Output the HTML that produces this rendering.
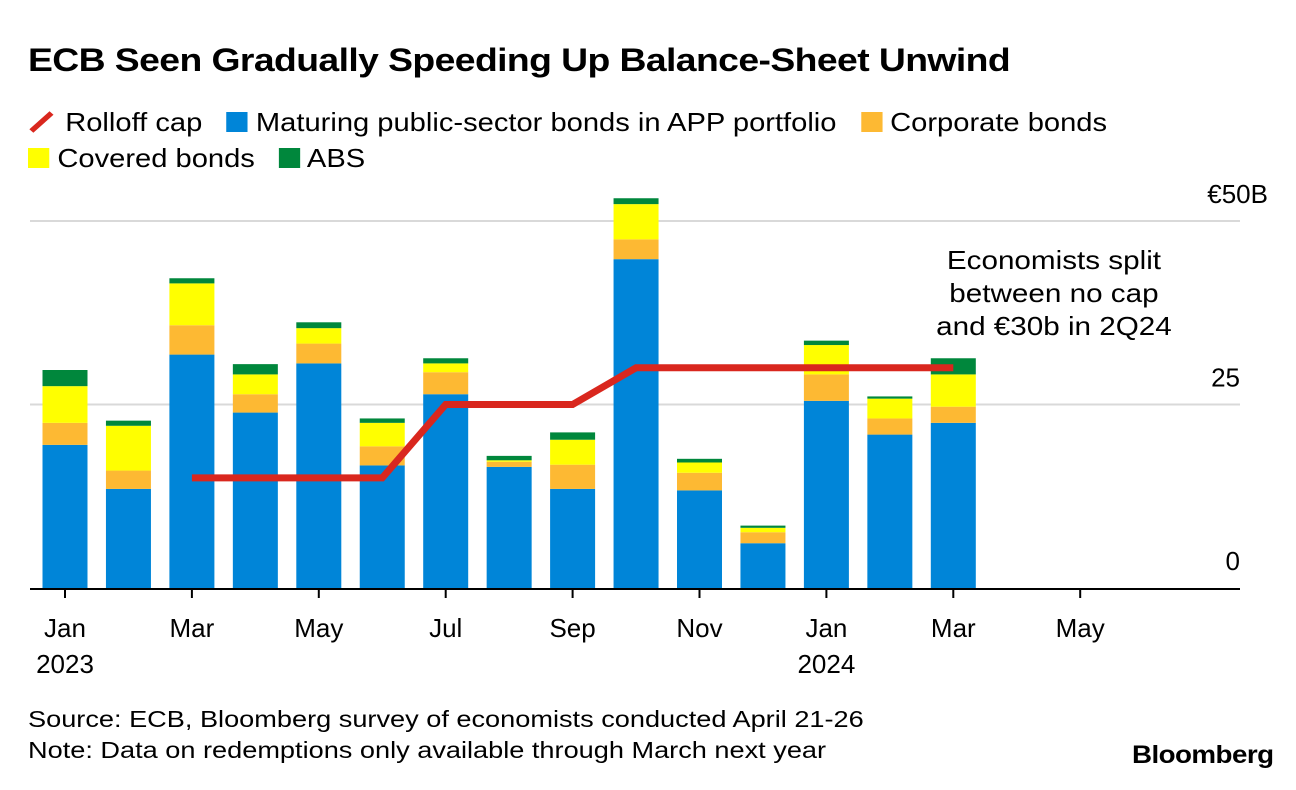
<!DOCTYPE html>
<html><head><meta charset="utf-8"><style>
body{margin:0;background:#fff;font-family:"Liberation Sans",sans-serif;}
#wrap{position:relative;width:1296px;height:790px;overflow:hidden;}
.t{position:absolute;white-space:nowrap;color:#000;transform-origin:0 0;}
</style></head><body>
<div id="wrap">
<div class="t" style="left:28px;top:42px;font-size:32px;font-weight:bold;letter-spacing:-0.5px;transform:scaleX(1.166)">ECB Seen Gradually Speeding Up Balance-Sheet Unwind</div>
<div class="t" style="left:28px;top:104px;font-size:26px;line-height:36px;transform:scaleX(1.12)">
<span><svg width="26" height="24" style="vertical-align:-3px"><line x1="3" y1="21" x2="21" y2="3" stroke="#d9271e" stroke-width="5"/></svg> Rolloff cap</span>&nbsp;&nbsp;
<span><span style="display:inline-block;width:19px;height:20px;background:#0085d8;vertical-align:-1px"></span> Maturing public-sector bonds in APP portfolio</span>&nbsp;&nbsp;
<span><span style="display:inline-block;width:19px;height:20px;background:#fdb933;vertical-align:-1px"></span> Corporate bonds</span><br>
<span><span style="display:inline-block;width:19px;height:20px;background:#ffff00;vertical-align:-1px"></span> Covered bonds</span>&nbsp;&nbsp;
<span><span style="display:inline-block;width:19px;height:20px;background:#00873c;vertical-align:-1px"></span> ABS</span>
</div>
<svg id="chart" width="1296" height="790" style="position:absolute;left:0;top:0"></svg>
<div class="t" style="left:920px;top:244px;font-size:26px;line-height:33px;text-align:center;width:235px;transform:scaleX(1.14)">Economists split<br>between no cap<br>and €30b in 2Q24</div>
<div class="t" style="left:28px;top:704px;font-size:23px;line-height:31px;transform:scaleX(1.18)">Source: ECB, Bloomberg survey of economists conducted April 21-26<br>Note: Data on redemptions only available through March next year</div>
<div class="t" style="left:1132px;top:741px;font-size:25px;font-weight:bold;letter-spacing:-0.5px;transform:scaleX(1.11)">Bloomberg</div>
</div>
<script>
const months=["Jan23","Feb23","Mar23","Apr23","May23","Jun23","Jul23","Aug23","Sep23","Oct23","Nov23","Dec23","Jan24","Feb24","Mar24"];
const publicBonds=[19.5,13.5,31.8,23.9,30.6,16.7,26.4,16.5,13.5,44.8,13.3,6.1,25.5,20.9,22.5];
const corporate=[3.0,2.5,4.0,2.5,2.7,2.6,3.0,0.7,3.3,2.7,2.4,1.5,3.6,2.2,2.2];
const covered=[5.0,6.1,5.7,2.7,2.1,3.2,1.2,0.2,3.4,4.8,1.4,0.6,4.0,2.7,4.4];
const abs=[2.2,0.7,0.7,1.4,0.8,0.6,0.7,0.6,1.0,0.8,0.5,0.3,0.6,0.3,2.2];
const capIdx=[2,3,4,5,6,7,8,9,10,11,12,13,14];
const capVals=[15,15,15,15,25,25,25,30,30,30,30,30,30];
const yTicks=[0,25,50];
const yTickLabels=["0","25","€50B"];
const xTickIdx=[0,2,4,6,8,10,12,14,16];
const xTickLabels=[["Jan","2023"],["Mar",""],["May",""],["Jul",""],["Sep",""],["Nov",""],["Jan","2024"],["Mar",""],["May",""]];
const NS="http://www.w3.org/2000/svg";
const svg=document.getElementById('chart');
const x=i=>65+i*63.45;
const y=v=>588-v*7.34;
function mk(t,a){const e=document.createElementNS(NS,t);for(const k in a)e.setAttribute(k,a[k]);svg.appendChild(e);return e;}
yTicks.forEach((v,i)=>{
 if(v>0){const g=mk('line',{x1:30,x2:1240,y1:y(v),y2:y(v),stroke:'#d9d9d9','stroke-width':2});
 
 }
 const lab=yTickLabels[i];
 const t=mk('text',{x:lab.length>3?1268:1240,y:y(v)-18,'text-anchor':'end','font-size':26,'font-family':'Liberation Sans, sans-serif'});
 t.textContent=lab;
 
 
});
const series=[[publicBonds,'#0085d8','public'],[corporate,'#fdb933','corporate'],[covered,'#ffff00','covered'],[abs,'#00873c','abs']];
months.forEach((m,i)=>{
 let base=0;
 series.forEach(([arr,c,n])=>{
  const r=mk('rect',{x:x(i)-22.5,width:45,y:y(base+arr[i]),height:arr[i]*7.34,fill:c});
  
  
  base+=arr[i];
 });
});
const ax=mk('line',{x1:30,x2:1240,y1:589,y2:589,stroke:'#000','stroke-width':2});


xTickIdx.forEach((idx,k)=>{
 const tk=mk('line',{x1:x(idx),x2:x(idx),y1:589,y2:598,stroke:'#000','stroke-width':2});
 
 
 xTickLabels[k].forEach((s,j)=>{if(!s)return;
  const t=mk('text',{x:x(idx),y:637+j*36,'text-anchor':'middle','font-size':26,'font-family':'Liberation Sans, sans-serif'});
  t.textContent=s;
  
  
 });
});
let pts=[];
capIdx.forEach((idx,k)=>{
 pts.push(x(idx)+','+y(capVals[k]));
});
const pl=mk('polyline',{points:pts.join(' '),fill:'none',stroke:'#d9271e','stroke-width':7,'stroke-linejoin':'miter'});


</script>
</body></html>
